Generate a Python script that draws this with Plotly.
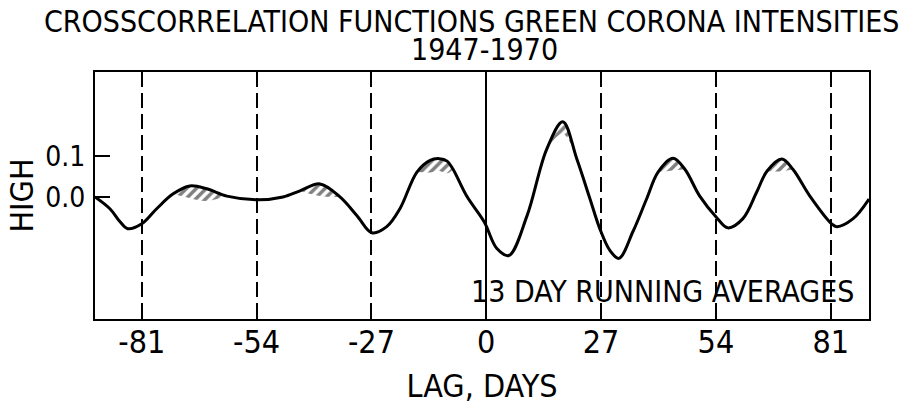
import plotly.graph_objects as go

# Lag (days) and cross-correlation values
lag = [-92.0, -88.5, -86.1, -84.3, -81.0, -77.5, -73.7, -69.7, -65.7, -61.0,
       -53.7, -47.8, -43.8, -39.1, -34.4, -30.4, -26.9, -23.4, -20.3, -16.3,
       -13.2, -11.0, -9.2, -7.8, -4.6, -0.5, 2.5, 5.3, 9.6, 14.2,
       18.0, 21.3, 24.4, 26.7, 29.1, 31.2, 34.5, 37.7, 40.4, 43.9,
       46.7, 50.2, 54.2, 56.8, 60.3, 63.6, 66.0, 69.5, 72.1, 76.1,
       81.2, 82.4, 86.2, 90.0]
corr = [0.0, -0.029, -0.061, -0.078, -0.066, -0.029, 0.007, 0.027, 0.020, 0.002,
        -0.007, 0.0, 0.015, 0.032, 0.0, -0.046, -0.088, -0.073, -0.029, 0.061,
        0.090, 0.094, 0.088, 0.068, 0.002, -0.061, -0.127, -0.144, -0.046, 0.117,
        0.185, 0.093, -0.005, -0.078, -0.132, -0.151, -0.085, -0.005, 0.061, 0.095,
        0.068, 0.002, -0.051, -0.076, -0.054, 0.012, 0.063, 0.093, 0.068, 0.002,
        -0.066, -0.073, -0.054, -0.005]

# index ranges (inclusive) of the hatched peak tops
hatch_windows = [(6, 9), (12, 14), (19, 23), (29, 31), (38, 40), (46, 48)]

x_ticks = [-81, -54, -27, 0, 27, 54, 81]
x_tick_labels = ["-81", "-54", "-27", "0", "27", "54", "81"]
y_ticks = [0.0, 0.1]
y_tick_labels = ["0.0", "0.1"]

title_line1 = "CROSSCORRELATION FUNCTIONS GREEN CORONA INTENSITIES"
title_line2 = "1947-1970"
note_text = "13 DAY RUNNING AVERAGES"

FONT = "DejaVu Sans Condensed, Liberation Sans Narrow, Arial Narrow, sans-serif"

fig = go.Figure()

# hatched peak tops (decoration under the curve)
for i0, i1 in hatch_windows:
    xs = lag[i0:i1 + 1]
    top = corr[i0:i1 + 1]
    n = len(xs)
    low = [v - (0.0 if (k == 0 or k == n - 1) else 0.03) for k, v in enumerate(top)]
    fig.add_trace(go.Scatter(
        x=xs, y=low, mode="lines", line=dict(width=0, shape="spline"),
        showlegend=False, hoverinfo="skip",
    ))
    fig.add_trace(go.Scatter(
        x=xs, y=top, mode="lines", line=dict(width=0, shape="spline"),
        fill="tonexty", fillcolor="rgba(255,255,255,0)",
        fillpattern=dict(shape="/", fgcolor="black", bgcolor="rgba(255,255,255,0)",
                         size=7, solidity=0.5),
        showlegend=False, hoverinfo="skip",
    ))

fig.add_trace(go.Scatter(
    x=lag, y=corr, mode="lines",
    line=dict(color="black", width=3, shape="spline", smoothing=1.0),
    showlegend=False, hoverinfo="skip",
))

fig.update_layout(
    width=924, height=410,
    margin=dict(l=95, r=55, t=72, b=89),
    paper_bgcolor="white", plot_bgcolor="white",
    font=dict(family=FONT, color="black"),
    xaxis=dict(
        range=[-92, 90],
        tickmode="array", tickvals=x_ticks, ticktext=x_tick_labels,
        ticks="inside", ticklen=15, tickwidth=2, tickcolor="black",
        tickfont=dict(size=32, family=FONT), ticklabelstandoff=-6,
        showgrid=True, gridcolor="black", gridwidth=1.5, griddash="15px,6px",
        zeroline=True, zerolinecolor="black", zerolinewidth=1.5,
        showline=True, linecolor="black", linewidth=2, mirror=True,
        title=dict(text="LAG, DAYS", font=dict(size=32, family=FONT), standoff=14),
    ),
    yaxis=dict(
        range=[-0.300, 0.307],
        tickmode="array", tickvals=y_ticks, ticktext=y_tick_labels,
        ticks="inside", ticklen=15, tickwidth=2, tickcolor="black",
        tickfont=dict(size=28, family=FONT), ticklabelstandoff=2,
        showgrid=False, zeroline=False,
        showline=True, linecolor="black", linewidth=2, mirror=True,
        title=dict(text="HIGH", font=dict(size=32, family=FONT), standoff=2),
    ),
    annotations=[
        dict(text=title_line1, xref="paper", yref="paper", x=0.486, y=1.203,
             xanchor="center", yanchor="middle", showarrow=False,
             font=dict(size=30, family=FONT)),
        dict(text=title_line2, xref="paper", yref="paper", x=0.503, y=1.090,
             xanchor="center", yanchor="middle", showarrow=False,
             font=dict(size=30, family=FONT)),
        dict(text=note_text, xref="x", yref="y", x=41.4, y=-0.232,
             xanchor="center", yanchor="middle", showarrow=False,
             font=dict(size=30, family=FONT)),
    ],
)

fig.write_html("out.html")
